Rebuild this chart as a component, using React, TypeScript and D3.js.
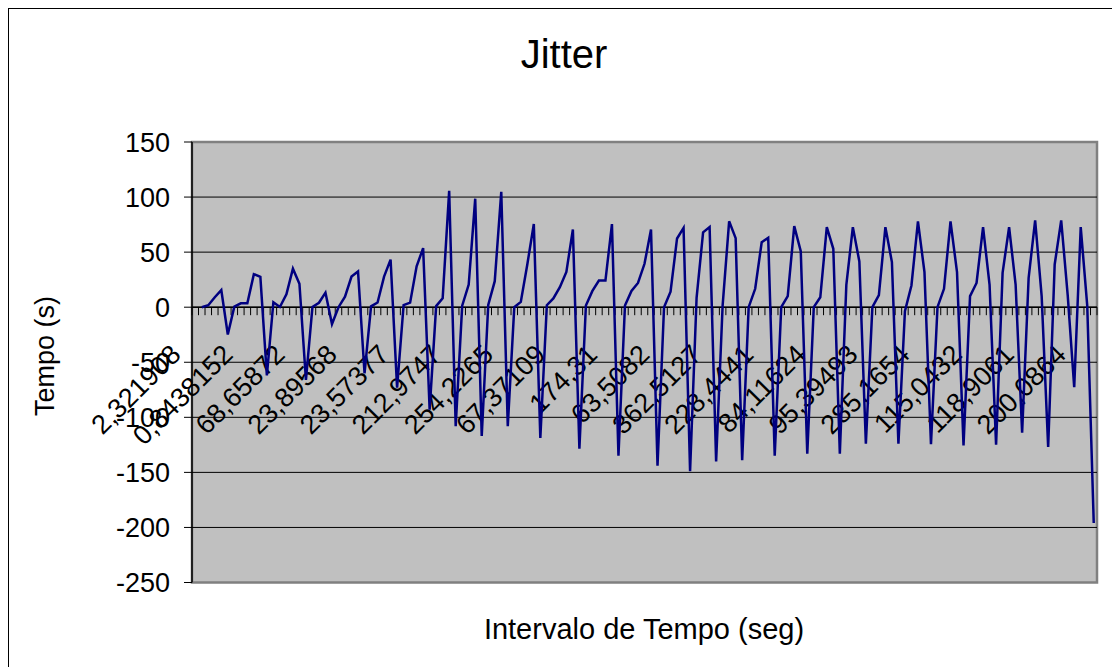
import React from "react";
import * as d3 from "d3";

const jitterValues: (number | null)[] = [
  null, 0, 1.8, 9, 15.5, -24.8, 0.5, 3.5, 3.5, 30,
  27.6, -62, 4.5, 0.2, 11.8, 35, 21.3, -66, 0.3, 4,
  13.2, -15.3, 0, 9.5, 27.8, 32.4, -60, 0.8, 4.3, 27.8,
  43.2, -73, 1.9, 4.1, 37.2, 53.6, -93, 1, 8, 105.6,
  -108, 1.3, 20.6, 98.5, -117, 2, 23.6, 104.8, -108, 0,
  4.8, 38.8, 75.5, -118.8, 1.8, 7.9, 18.2, 32, 70.6, -128.5,
  1.5, 14.8, 24.2, 24.2, 75.5, -134.8, 1.5, 14.8, 22, 39.4,
  70.6, -144, 0, 14, 62.4, 72, -149, 8.5, 68, 72.7,
  -140, 1.5, 78, 62.7, -139, 0, 16.7, 59, 63, -134.8,
  0, 10, 73.6, 50.9, -133, 0, 9, 72.7, 53, -133,
  20.3, 72.7, 41.5, -124, 0, 11, 72.7, 41, -124, -3.6,
  19.7, 78, 31.8, -124.5, 0, 16.7, 78, 31.8, -125.5, 10,
  22, 72.7, 20.3, -124.8, 31.2, 72.7, 20.6, -114, 26.7, 78.8,
  10, -127, 38.8, 78.8, 11, -72.7, 72.7, 1.5, -196,
];

const labelIndices: number[] = [0, 8, 16, 24, 32, 40, 48, 56, 64, 72, 80, 88, 96, 104, 112, 120, 128, 136];
const categoryLabels: string[] = [
  "2,321908", "0,8438152", "68,65872", "23,89568", "23,57377", "212,9747",
  "254,2265", "67,37109", "174,31", "63,5082", "362,5127", "228,4441",
  "84,11624", "95,39493", "285,1654", "115,0432", "118,9061", "200,0864",
];
const yTicks: number[] = [150, 100, 50, 0, -50, -100, -150, -200, -250];

const titleText = "Jitter";
const xTitle = "Intervalo de Tempo (seg)";
const yTitle = "Tempo (s)";

const W = 1112;
const H = 667;
const plot = { left: 192, right: 1097, top: 142, bottom: 582.5 };
const FONT = "'Liberation Sans', Arial, Helvetica, sans-serif";

export default function App() {
  const n = jitterValues.length;
  const idx = d3.range(n);
  const x = d3.scalePoint<number>().domain(idx).range([plot.left, plot.right]).padding(0.5);
  const step = x.step();
  const y = d3.scaleLinear().domain([-250, 150]).range([plot.bottom, plot.top]);
  const y0 = y(0);

  const line = d3
    .line<number | null>()
    .defined((d) => d != null)
    .x((_, i) => x(i) as number)
    .y((d) => y(d as number));

  const boundaries = d3.range(n + 1).map((j) => plot.left + step * j);

  return (
    <svg
      width={W}
      height={H}
      style={{ position: "absolute", left: 0, top: 0, display: "block", background: "#fff" }}
      fontFamily={FONT}
    >
      <rect x={8.5} y={8.5} width={1115} height={670} fill="#fff" stroke="#000" strokeWidth={1} />
      <text x={564} y={68} textAnchor="middle" fontSize={40} fill="#000">
        {titleText}
      </text>

      <rect
        x={plot.left}
        y={plot.top}
        width={plot.right - plot.left}
        height={plot.bottom - plot.top}
        fill="#C0C0C0"
        stroke="#808080"
        strokeWidth={2.5}
      />
      {yTicks
        .filter((t) => t !== 150 && t !== -250)
        .map((t) => (
          <line key={"g" + t} x1={plot.left} x2={plot.right} y1={y(t)} y2={y(t)} stroke="#000" strokeWidth={1} />
        ))}

      {/* y axis */}
      <line x1={plot.left} x2={plot.left} y1={plot.top} y2={plot.bottom} stroke="#000" strokeWidth={1.5} />
      {yTicks.map((t) => (
        <g key={"yt" + t}>
          <line x1={plot.left - 8} x2={plot.left} y1={y(t)} y2={y(t)} stroke="#000" strokeWidth={1} />
          <text x={170} y={y(t)} dy="0.36em" textAnchor="end" fontSize={27} fill="#000">
            {String(t)}
          </text>
        </g>
      ))}

      {/* x axis at zero */}
      <line x1={plot.left} x2={plot.right} y1={y0} y2={y0} stroke="#000" strokeWidth={1.5} />
      {boundaries.map((bx, j) => (
        <line key={"xt" + j} x1={bx} x2={bx} y1={y0} y2={y0 + 8} stroke="#000" strokeWidth={1} />
      ))}

      {/* category labels */}
      {labelIndices.map((k, i) => {
        const px = (x(k) as number) - 13;
        const py = y0 + 49;
        return (
          <text
            key={"cl" + k}
            x={px}
            y={py}
            textAnchor="end"
            fontSize={27}
            fill="#000"
            transform={`rotate(-45 ${px} ${py})`}
          >
            {categoryLabels[i]}
          </text>
        );
      })}

      <path d={line(jitterValues) || ""} fill="none" stroke="#000080" strokeWidth={2.5} strokeLinejoin="miter" />

      <text x={644} y={639} textAnchor="middle" fontSize={29} fill="#000">
        {xTitle}
      </text>
      <text
        x={54}
        y={356}
        textAnchor="middle"
        fontSize={27}
        fill="#000"
        transform={`rotate(-90 54 356)`}
      >
        {yTitle}
      </text>
    </svg>
  );
}
